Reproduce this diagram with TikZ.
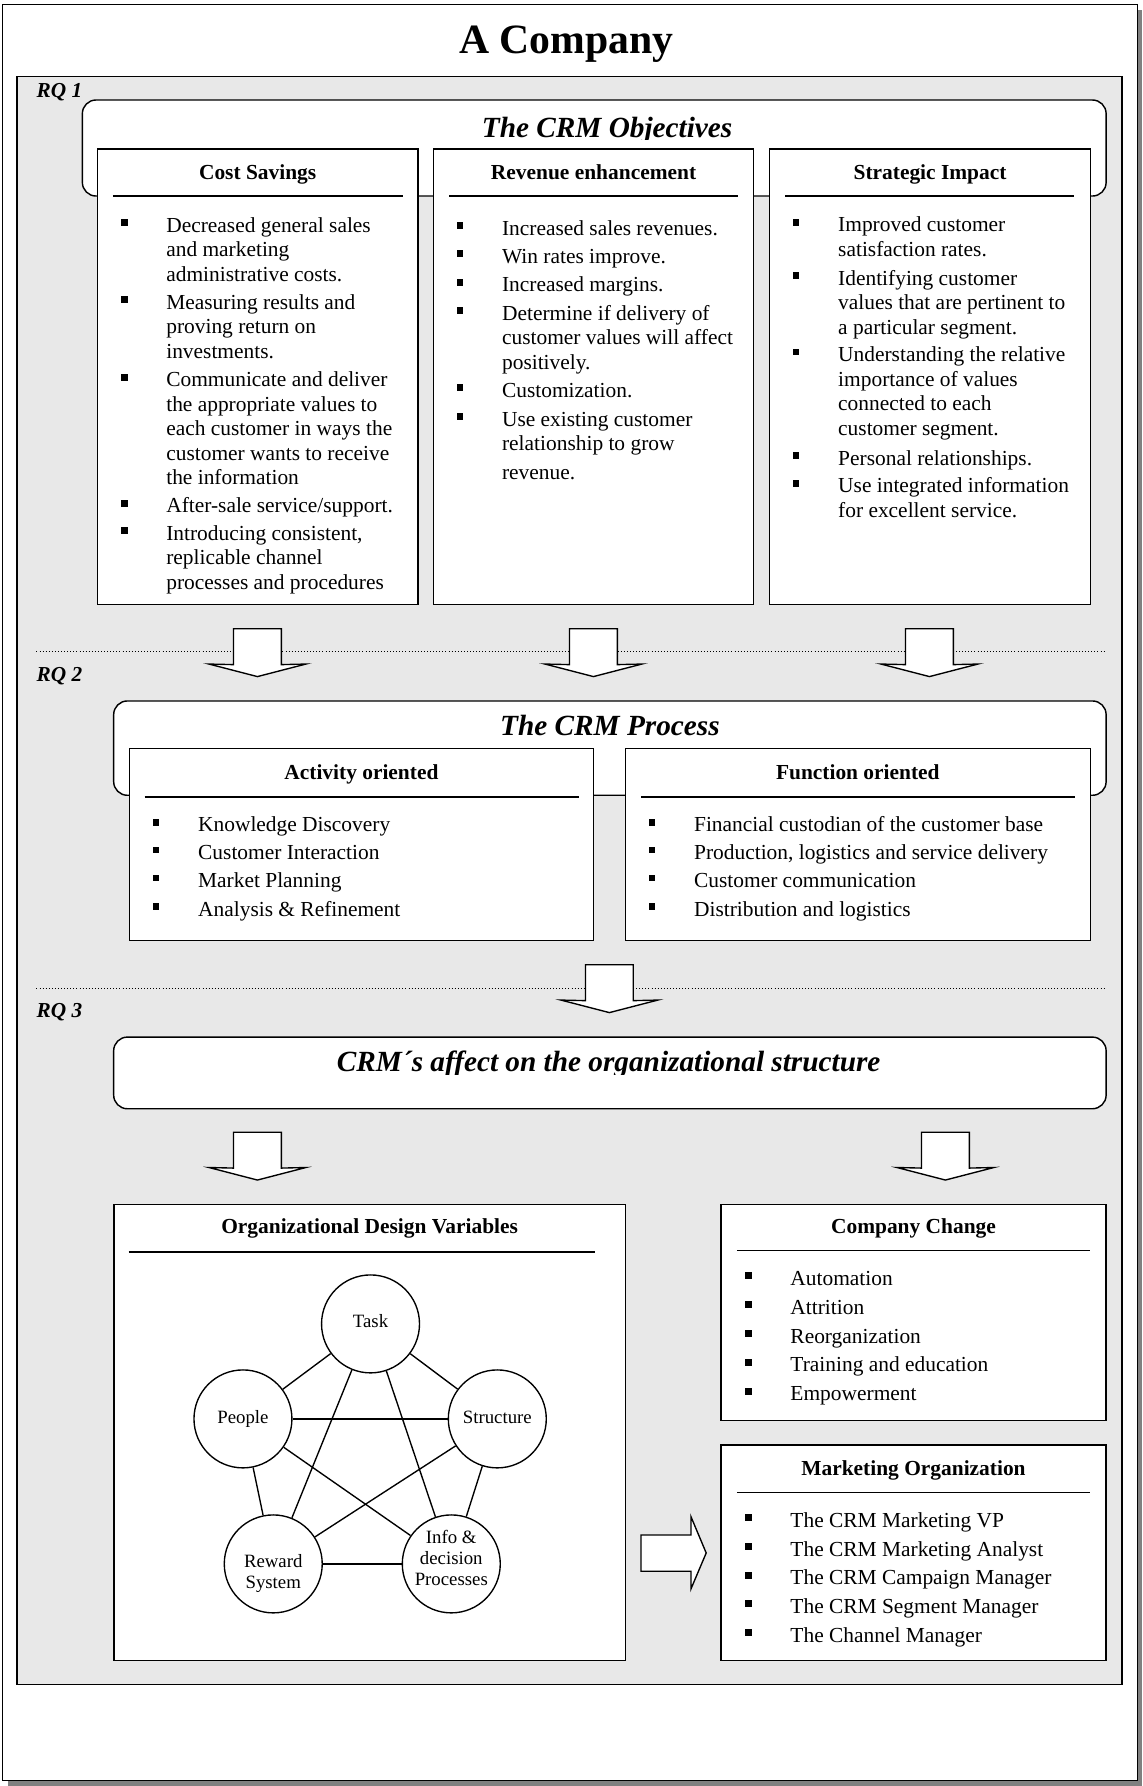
\documentclass[tikz,border=0pt]{standalone}
\usepackage{fontspec}
\setmainfont{Liberation Serif}
\definecolor{panelgrey}{HTML}{E8E8E8}
\definecolor{shadowgrey}{HTML}{808080}
\newcommand\bitem[1]{\rule[5.5pt]{6pt}{6pt}\hspace{34pt}\parbox[t]{330pt}{\raggedright #1}}
\begin{document}
\begin{tikzpicture}[x=1pt,y=-1pt,
  box/.style={draw,line width=1.25pt,fill=white},
  rbox/.style={draw,line width=1.25pt,fill=white,rounded corners=12pt},
  hdr/.style={font=\fontsize{18.8}{21.6}\selectfont\bfseries,anchor=base,inner sep=0},
  ttl/.style={font=\fontsize{25.7}{30}\selectfont\bfseries\itshape,anchor=base,inner sep=0},
  rq/.style={font=\fontsize{18.7}{22}\selectfont\bfseries\itshape,anchor=base west,inner sep=0},
  itm/.style={font=\fontsize{18.8}{21.5}\selectfont,anchor=base west,inner sep=0},
  hline/.style={line width=1.3pt},
  circ/.style={draw,circle,line width=1.2pt,minimum size=86pt,inner sep=0,fill=white},
  ctext/.style={align=center,inner sep=0,anchor=base,font=\fontsize{16.5}{18.6}\selectfont},
  blockarrow/.style={draw,line width=1.2pt,fill=white,line join=miter},
  sep/.style={dotted,line width=0.7pt},
  darrow/.pic={\path[blockarrow] (-21,0) -- (21,0) -- (21,31.5) -- (42.5,31) -- (0,42) -- (-42.5,31) -- (-21,31.5) -- cycle;}
]
\useasboundingbox (0,0) rectangle (1003,1568);
% page
\fill[shadowgrey] (7,9) rectangle (1003,1568);
\draw[fill=white,line width=0.9pt] (2,4) rectangle (998.3,1563.3);
\node[font=\fontsize{36.6}{40}\selectfont\bfseries,anchor=base,inner sep=0] (title) at (497.3,47) {A Company};
% panel
\draw[fill=panelgrey,line width=1.2pt] (15,67) rectangle (985,1479);
\draw[sep] (32,572.3) -- (971,572.3);
\draw[sep] (32,868) -- (971,868);
\node[rq] (rq1) at (32,85.5) {RQ 1};
\node[rq] (rq2) at (32,598.7) {RQ 2};
\node[rq] (rq3) at (32,893.5) {RQ 3};

% ---------- RQ1 objectives
\draw[rbox] (72.3,87.8) rectangle (971.1,172.1);
\begin{scope}
\clip (72,88) rectangle (971,122.5);
\node[ttl] (objt) at (533,120.3) {The CRM Objectives};
\end{scope}
\draw[box] (85.5,130.9) rectangle (366.8,530.8);
\draw[box] (380.6,130.9) rectangle (661.6,530.8);
\draw[box] (675.7,130.9) rectangle (957.3,530.8);
\node[hdr] (hcost) at (226.2,157.5) {Cost Savings};
\node[hdr] (hrev) at (521.1,157.5) {Revenue enhancement};
\node[hdr] (hstr) at (816.5,157.5) {Strategic Impact};
\draw[hline] (99,172.1) -- (353.4,172.1);
\draw[hline] (394.6,172.1) -- (647.9,172.1);
\draw[hline] (689.4,172.1) -- (943.3,172.1);
% cost savings items
\node[itm] (c1) at (105.8,203.8) {\bitem{Decreased general sales\\and marketing\\administrative costs.}};
\node[itm] (c2) at (105.8,271.4) {\bitem{Measuring results and\\proving return on\\investments.}};
\node[itm] (c3) at (105.8,339.6) {\bitem{Communicate and deliver\\the appropriate values to\\each customer in ways the\\customer wants to receive\\the information}};
\node[itm] (c4) at (105.8,450.3) {\bitem{After-sale service/support.}};
\node[itm] (c5) at (105.8,474.3) {\bitem{Introducing consistent,\\replicable channel\\processes and procedures}};
% revenue items
\node[itm] (r1) at (400.6,206.4) {\bitem{Increased sales revenues.}};
\node[itm] (r2) at (400.6,231.3) {\bitem{Win rates improve.}};
\node[itm] (r3) at (400.6,256.2) {\bitem{Increased margins.}};
\node[itm] (r4) at (400.6,281) {\bitem{Determine if delivery of\\customer values will affect\\positively.}};
\node[itm] (r5) at (400.6,349) {\bitem{Customization.}};
\node[itm] (r6) at (400.6,374.1) {\bitem{Use existing customer\\relationship to grow\\[4.3pt]revenue.}};
% strategic items
\node[itm] (s1) at (695.7,203.5) {\bitem{Improved customer\\satisfaction rates.}};
\node[itm] (s2) at (695.7,250.3) {\bitem{Identifying customer\\values that are pertinent to\\a particular segment.}};
\node[itm] (s3) at (695.7,317.6) {\bitem{Understanding the relative\\importance of values\\connected to each\\customer segment.}};
\node[itm] (s4) at (695.7,408.4) {\bitem{Personal relationships.}};
\node[itm] (s5) at (695.7,432.7) {\bitem{Use integrated information\\for excellent service.}};
% arrows RQ1 -> RQ2
\pic at (226,552) {darrow};
\pic at (521,552) {darrow};
\pic at (816,552) {darrow};

% ---------- RQ2 process
\draw[rbox] (99.8,615.4) rectangle (971.1,698.2);
\node[ttl] (proct) at (535.5,645.5) {The CRM Process};
\draw[box] (113.6,657.3) rectangle (521,825.6);
\draw[box] (548.9,657.3) rectangle (957.3,825.6);
\node[hdr] (hact) at (317.3,684.2) {Activity oriented};
\node[hdr] (hfun) at (753.1,684.2) {Function oriented};
\draw[hline] (127,699.7) -- (508.2,699.7);
\draw[hline] (562.9,699.7) -- (943.4,699.7);
\node[itm] (a1) at (133.8,730.4) {\bitem{Knowledge Discovery}};
\node[itm] (a2) at (133.8,754.7) {\bitem{Customer Interaction}};
\node[itm] (a3) at (133.8,779.3) {\bitem{Market Planning}};
\node[itm] (a4) at (133.8,804.5) {\bitem{Analysis \& Refinement}};
\node[itm] (f1) at (569.2,730.4) {\bitem{Financial custodian of the customer base}};
\node[itm] (f2) at (569.2,754.7) {\bitem{Production, logistics and service delivery}};
\node[itm] (f3) at (569.2,779.3) {\bitem{Customer communication}};
\node[itm] (f4) at (569.2,804.5) {\bitem{Distribution and logistics}};
\pic at (535,847) {darrow};

% ---------- RQ3
\draw[rbox] (99.8,910.5) rectangle (971.1,973.4);
\begin{scope}
\clip (100,911) rectangle (971,943.2);
\node[ttl] (afft) at (534.4,941) {CRM´s affect on the organizational structure};
\end{scope}
\pic at (226,994) {darrow};
\pic at (830,994) {darrow};

% organizational design variables
\draw[box] (100,1057.5) rectangle (549,1458);
\node[hdr] (hodv) at (324.5,1083.2) {Organizational Design Variables};
\draw[hline] (113,1099.3) -- (522.2,1099.3);
\node[circ] (task) at (325.3,1162.3) {};
\node[circ] (people) at (213.3,1245.7) {};
\node[circ] (struct) at (436.6,1245.7) {};
\node[circ] (reward) at (239.9,1373) {};
\node[circ] (info) at (396.2,1373) {};
\foreach \a/\b in {task/people,task/struct,people/reward,struct/info,reward/info,task/reward,task/info,people/struct,people/info,struct/reward}
  \draw[line width=1.2pt] (\a) -- (\b);
\node[ctext] (tasktxt) at (325.3,1165.5) {Task};
\node[ctext] (peopletxt) at (213.3,1249.5) {People};
\node[ctext] (structtxt) at (436.6,1249.5) {Structure};
\node[ctext] (rewardtxt) at (239.9,1394.5) {Reward\\System};
\node[ctext] (infotxt) at (396.2,1392) {Info \&\\decision\\Processes};

% company change
\draw[box] (633,1057.5) rectangle (971,1247.2);
\node[hdr] (hcc) at (802,1083.2) {Company Change};
\draw[hline] (647,1097.9) -- (957.3,1097.9);
\node[itm] (k1) at (653.8,1128.6) {\bitem{Automation}};
\node[itm] (k2) at (653.8,1153.9) {\bitem{Attrition}};
\node[itm] (k3) at (653.8,1179.2) {\bitem{Reorganization}};
\node[itm] (k4) at (653.8,1204.5) {\bitem{Training and education}};
\node[itm] (k5) at (653.8,1229.8) {\bitem{Empowerment}};

% marketing organization
\draw[box] (633,1268.5) rectangle (971,1457.9);
\node[hdr] (hmo) at (802,1295.4) {Marketing Organization};
\draw[hline] (647,1310.1) -- (957.3,1310.1);
\node[itm] (m1) at (653.8,1340.8) {\bitem{The CRM Marketing VP}};
\node[itm] (m2) at (653.8,1366.3) {\bitem{The CRM Marketing Analyst}};
\node[itm] (m3) at (653.8,1391.5) {\bitem{The CRM Campaign Manager}};
\node[itm] (m4) at (653.8,1416.4) {\bitem{The CRM Segment Manager}};
\node[itm] (m5) at (653.8,1441.8) {\bitem{The Channel Manager}};

% right arrow
\path[blockarrow] (562.7,1347.6) -- (606.6,1347.6) -- (606.6,1331.5) -- (620,1363.4) -- (606.6,1395) -- (606.6,1379.5) -- (562.7,1379.5) -- cycle;
\end{tikzpicture}
\end{document}
